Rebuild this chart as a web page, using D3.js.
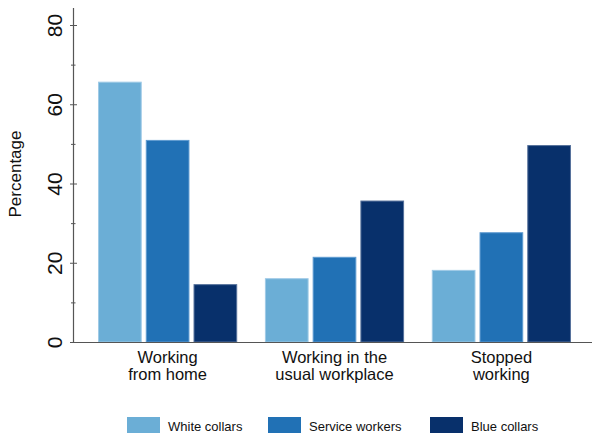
<!DOCTYPE html>
<html>
<head>
<meta charset="utf-8">
<script src="https://cdn.jsdelivr.net/npm/d3@7"></script>
<style>
  html, body { margin: 0; padding: 0; background: #fff; }
  svg { display: block; }
  text { font-family: "Liberation Sans", Arial, Helvetica, sans-serif; fill: #111; }
</style>
</head>
<body>
<svg id="chart" width="592" height="437"></svg>
<script>
// ---- data ----
const categories = [["Working", "from home"], ["Working in the", "usual workplace"], ["Stopped", "working"]];
const categoryKeys = ["home", "usual", "stopped"];
const seriesNames = ["White collars", "Service workers", "Blue collars"];
const seriesColors = ["#6baed6", "#2171b5", "#08306b"];
const seriesStroke = ["#9fcae6", "#5f9bd0", "#56719b"];
const whiteCollars = [65.7, 16.1, 18.2];
const serviceWorkers = [51.0, 21.5, 27.7];
const blueCollars = [14.6, 35.7, 49.7];
const yMajorTicks = [0, 20, 40, 60, 80];
const yMinorTicks = [10, 30, 50, 70];
const yLabel = "Percentage";

const seriesValues = [whiteCollars, serviceWorkers, blueCollars];

const svg = d3.select("#chart");

const x0 = d3.scaleBand().domain(categoryKeys).range([73, 596]).paddingInner(0.166).paddingOuter(0.15);
const x1 = d3.scaleBand().domain(seriesNames).range([0, x0.bandwidth()]).paddingInner(0.085).paddingOuter(0);
const y = d3.scaleLinear().domain([0, 80]).range([342, 25]);

// bars
categoryKeys.forEach((k, ci) => {
  const g = svg.append("g").attr("transform", `translate(${x0(k)},0)`);
  seriesNames.forEach((s, si) => {
    const v = seriesValues[si][ci];
    g.append("rect")
      .attr("x", x1(s) + 0.5)
      .attr("y", y(v) + 0.5)
      .attr("width", x1.bandwidth() - 1)
      .attr("height", y(0) - y(v) - 0.5)
      .attr("fill", seriesColors[si])
      .attr("stroke", seriesStroke[si])
      .attr("stroke-width", 1);
  });
});

// axes lines
svg.append("line").attr("x1", 72).attr("x2", 592).attr("y1", y(0) + 0.5).attr("y2", y(0) + 0.5)
  .attr("stroke", "#555").attr("stroke-width", 1.2);
svg.append("line").attr("x1", 73.5).attr("x2", 73.5).attr("y1", 8).attr("y2", y(0) + 1)
  .attr("stroke", "#555").attr("stroke-width", 1.2);

// y axis major ticks
const yAxis = svg.append("g").attr("transform", "translate(73.5,0)")
  .call(d3.axisLeft(y).tickValues(yMajorTicks).tickSize(3).tickPadding(0).tickFormat(d3.format("d")));
yAxis.select(".domain").remove();
yAxis.selectAll(".tick line").attr("x1", -3.5).attr("x2", 3.5).attr("stroke", "#555");
yAxis.selectAll(".tick text")
  .attr("x", null).attr("dy", null)
  .attr("transform", "translate(-11.5,0) rotate(-90)")
  .attr("text-anchor", "middle")
  .style("font-size", "21px")
  .style("font-family", "'Liberation Sans', Arial, sans-serif")
  .attr("fill", "#111");

// minor ticks
const yMinor = svg.append("g").attr("transform", "translate(73.5,0)")
  .call(d3.axisLeft(y).tickValues(yMinorTicks).tickSize(2.5).tickFormat(""));
yMinor.select(".domain").remove();
yMinor.selectAll(".tick line").attr("x1", -2.5).attr("x2", 2).attr("stroke", "#555");

// y label
svg.append("text")
  .attr("transform", "translate(21,174) rotate(-90)")
  .attr("text-anchor", "middle")
  .style("font-size", "17px")
  .text(yLabel);

// category labels (one text element per line)
categoryKeys.forEach((k, ci) => {
  const cx = x0(k) + x0.bandwidth() / 2;
  categories[ci].forEach((line, li) => {
    svg.append("text")
      .attr("text-anchor", "middle")
      .style("font-size", "16.5px")
      .attr("x", cx)
      .attr("y", 362.5 + li * 17)
      .text(line);
  });
});

// legend
const legendX = [127, 268, 430];
seriesNames.forEach((s, si) => {
  const g = svg.append("g").attr("transform", `translate(${legendX[si]},417)`);
  g.append("rect").attr("width", 33).attr("height", 16).attr("fill", seriesColors[si]);
  g.append("text").attr("x", 41).attr("y", 13.5).style("font-size", "13px").text(s);
});
</script>
</body>
</html>
